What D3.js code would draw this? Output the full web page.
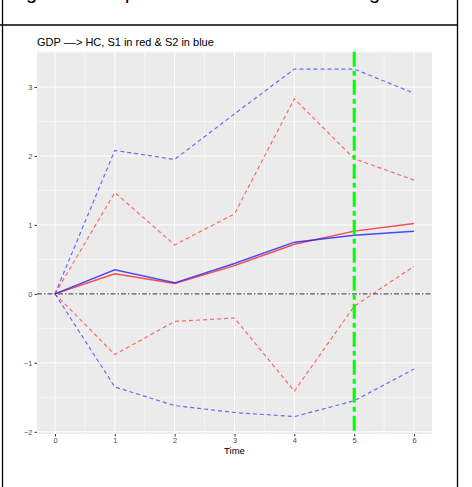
<!DOCTYPE html>
<html>
<head>
<meta charset="utf-8">
<script src="https://d3js.org/d3.v7.min.js"></script>
<style>
  body { margin: 0; background: #fff; overflow: hidden; }
  svg { display: block; font-family: "Liberation Sans", Arial, sans-serif; }
  .tick text { fill: #4d4d4d; font-size: 7.5px; }
  .tick line { stroke: #333; }
</style>
</head>
<body>
<div id="chart"></div>
<script>
// impulse response of HC to a GDP shock, two samples
const time = [0, 1, 2, 3, 4, 5, 6];
const s1Mid = [0, 0.29, 0.15, 0.41, 0.72, 0.91, 1.02];
const s1Lo  = [0, -0.88, -0.40, -0.35, -1.41, -0.18, 0.40];
const s1Hi  = [0, 1.47, 0.71, 1.16, 2.83, 1.96, 1.65];
const s2Mid = [0, 0.35, 0.16, 0.44, 0.75, 0.85, 0.91];
const s2Lo  = [0, -1.35, -1.62, -1.72, -1.78, -1.55, -1.09];
const s2Hi  = [0, 2.08, 1.95, 2.61, 3.26, 3.26, 2.91];
const xTicks = [0, 1, 2, 3, 4, 5, 6];
const yTicks = [-2, -1, 0, 1, 2, 3];
const markTime = 5;

const W = 472, H = 487;
const svg = d3.select("#chart").append("svg").attr("width", W).attr("height", H);

// leftover bits of the document around the figure
svg.append("line").attr("x1", 2.5).attr("x2", 2.5).attr("y1", 0).attr("y2", H).attr("stroke", "#000").attr("stroke-width", 1.3);
svg.append("line").attr("x1", 457.5).attr("x2", 457.5).attr("y1", 0).attr("y2", H).attr("stroke", "#000").attr("stroke-width", 1.3);
svg.append("line").attr("x1", 0).attr("x2", 458).attr("y1", 25).attr("y2", 25).attr("stroke", "#000").attr("stroke-width", 1.3);
[["g", 26], ["p", 125], ["g", 369]].forEach(([c, px]) => {
    svg.append("text").attr("x", px).attr("y", -1).attr("font-size", 20).attr("fill", "#000").text(c);
});

const pLeft = 37, pRight = 432, pTop = 51.7, pBottom = 434;

const x = d3.scaleLinear().domain([-0.3, 6.3]).range([pLeft, pRight]);
const all = s1Lo.concat(s1Hi, s2Lo, s2Hi, s1Mid, s2Mid);
const [mn, mx] = d3.extent(all);
const pad = (mx - mn) * 0.05;
const y = d3.scaleLinear().domain([mn - pad, mx + pad]).range([pBottom, pTop]);

svg.append("rect").attr("x", pLeft).attr("y", pTop)
    .attr("width", pRight - pLeft).attr("height", pBottom - pTop).attr("fill", "#ebebeb");

const grid = svg.append("g");
const minorX = d3.range(-0.5, 7, 1).filter(v => v > -0.3 && v < 6.3);
const minorY = d3.range(-2.5, 4, 1).filter(v => y(v) >= pTop && y(v) <= pBottom);
minorX.forEach(v => grid.append("line").attr("x1", x(v)).attr("x2", x(v)).attr("y1", pTop).attr("y2", pBottom).attr("stroke", "#fff").attr("stroke-width", 0.5));
minorY.forEach(v => grid.append("line").attr("x1", pLeft).attr("x2", pRight).attr("y1", y(v)).attr("y2", y(v)).attr("stroke", "#fff").attr("stroke-width", 0.5));
xTicks.forEach(v => grid.append("line").attr("x1", x(v)).attr("x2", x(v)).attr("y1", pTop).attr("y2", pBottom).attr("stroke", "#fff").attr("stroke-width", 1));
yTicks.forEach(v => grid.append("line").attr("x1", pLeft).attr("x2", pRight).attr("y1", y(v)).attr("y2", y(v)).attr("stroke", "#fff").attr("stroke-width", 1));

// zero line
svg.append("line").attr("x1", pLeft).attr("x2", pRight).attr("y1", y(0)).attr("y2", y(0))
    .attr("stroke", "#555").attr("stroke-width", 1.4).attr("stroke-dasharray", "5,2,1.5,2");

const line = d3.line().x((d, i) => x(time[i])).y(d => y(d));
const series = [
    { v: s2Hi, c: "#3333ff", dash: "4,3" },
    { v: s1Hi, c: "#ff3333", dash: "4,3" },
    { v: s1Lo, c: "#ff3333", dash: "4,3" },
    { v: s2Lo, c: "#3333ff", dash: "4,3" },
    { v: s1Mid, c: "#ff2020", dash: null },
    { v: s2Mid, c: "#2020ff", dash: null }
];
series.forEach(s => {
    svg.append("path").datum(s.v).attr("d", line).attr("fill", "none")
        .attr("stroke", s.c).attr("stroke-opacity", s.dash ? 0.7 : 0.8)
        .attr("stroke-width", s.dash ? 1.2 : 1.5)
        .attr("stroke-dasharray", s.dash);
});

// marker line
svg.append("line").attr("x1", x(markTime)).attr("x2", x(markTime)).attr("y1", pTop).attr("y2", pBottom)
    .attr("stroke", "#00ff00").attr("stroke-width", 3).attr("stroke-dasharray", "15,4,5,4");

svg.append("g").attr("transform", `translate(0,${pBottom})`)
    .call(d3.axisBottom(x).tickValues(xTicks).tickSize(2.5).tickPadding(1.5).tickFormat(d3.format("d")))
    .call(g => g.select(".domain").remove());
svg.append("g").attr("transform", `translate(${pLeft},0)`)
    .call(d3.axisLeft(y).tickValues(yTicks).tickSize(2.5).tickPadding(2).tickFormat(d => d < 0 ? "\u2212" + Math.abs(d) : d))
    .call(g => g.select(".domain").remove());

svg.append("text").attr("x", (pLeft + pRight) / 2).attr("y", 454).attr("text-anchor", "middle")
    .attr("font-size", 9.5).attr("fill", "#000").text("Time");
svg.append("text").attr("x", pLeft).attr("y", 46).attr("font-size", 11).attr("fill", "#000")
    .text("GDP \u2013\u2013> HC, S1 in red & S2 in blue");
</script>
</body>
</html>
